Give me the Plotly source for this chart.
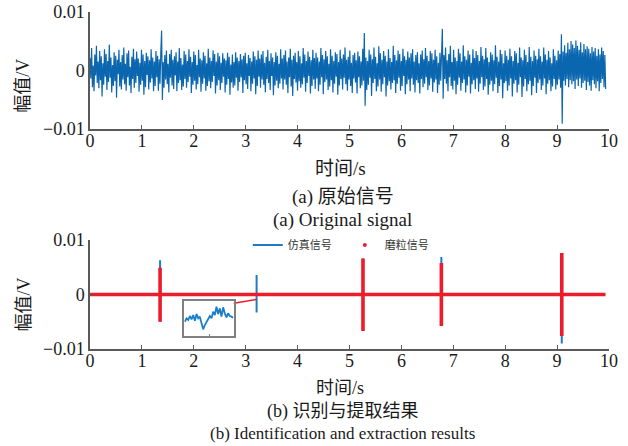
import plotly.graph_objects as go

# ---------------- data ----------------
# (a) original signal, amplitude in mV, sampled every 0.0155 s
sample_dt = 0.0155
orig_mv = [
    2.1, -1.4, 3.8, -2.9, 0.8, -3.6, 2.7, -0.9, 4.2, -2.2, 1.5, -3.1, 3.3, -1.7, 2.4, -4.5, 1.2, -2.5, 3.6, -1.1,
    2.8, -3.4, 1.6, -2.0, 4.4, -1.3, 2.2, -3.8, 0.9, -2.7, 3.1, -1.9, 2.5, -4.7, 1.8, -0.7, 3.5, -2.8, 1.4, -3.3,
    2.6, -1.6, 3.9, -2.4, 1.1, -3.5, 2.9, -1.2, 3.4, -2.6, 0.6, -3.9, 2.3, -1.5, 3.7, -3.0, 1.9, -2.2, 3.2, -1.0,
    2.0, -3.7, 1.3, -2.5, 3.5, -1.8, 2.7, -4.2, 1.6, -2.9, 3.0, -0.8, 2.4, -3.3, 1.7, -2.1, 3.6, -1.4, 2.2, -3.6,
    1.5, -2.7, 3.3, -1.2, 2.5, -3.5, 1.9, -2.3, 3.0, 6.8, -5.1, 1.4, -3.0, 2.6, -1.6, 3.4, -2.4, 1.1, -3.8, 2.8,
    -1.3, 3.5, -2.6, 1.8, -3.2, 2.4, -0.9, 3.1, -3.6, 1.5, -2.2, 3.8, -1.7, 2.1, -3.4, 1.0, -2.8, 3.3, -1.5, 2.7,
    -3.0, 1.6, -2.0, 3.6, -1.1, 2.3, -3.9, 1.4, -2.5, 3.2, -1.8, 2.6, -3.3, 0.9, -2.4, 3.5, -1.2, 2.0, -3.7, 1.7,
    -2.3, 3.1, -1.4, 2.5, -3.5, 1.2, -2.7, 3.7, -1.9, 2.2, -3.1, 1.6, -2.0, 3.4, -1.0, 2.8, -4.0, 1.5, -2.6, 3.0,
    -1.7, 2.4, -3.4, 1.3, -2.2, 2.9, -1.1, 2.0, -3.8, 1.7, -2.5, 3.0, -1.5, 2.3, -4.2, 1.0, -2.1, 2.7, -3.0, 1.4,
    -2.6, 3.1, -1.3, 2.2, -3.5, 1.6, -2.0, 2.8, -1.2, 1.9, -3.9, 2.5, -1.7, 3.0, -2.4, 1.2, -3.2, 2.6, -1.0, 2.1,
    -3.6, 1.5, -2.3, 3.2, -1.4, 2.4, -4.1, 1.8, -2.7, 3.4, -1.1, 2.0, -3.0, 2.7, -1.6, 3.3, -2.5, 1.3, -3.8, 2.3,
    -1.5, 3.5, -2.2, 1.6, -3.4, 2.9, -1.0, 2.2, -4.3, 1.4, -2.6, 3.1, -1.8, 2.5, -3.1, 1.1, -2.3, 3.6, -1.4, 2.0,
    -3.3, 2.6, -1.6, 3.4, -2.5, 1.5, -3.9, 2.2, -1.2, 3.7, -2.8, 1.8, -4.4, 2.5, -1.5, 3.0, -2.1, 1.4, -3.5, 3.3,
    -1.9, 2.4, -3.0, 1.2, -2.4, 3.8, -1.3, 2.7, -3.7, 1.6, -2.2, 3.2, -1.0, 2.3, -4.0, 1.7, -2.7, 3.5, -1.6, 2.1,
    -3.2, 3.0, -1.4, 2.2, -3.6, 1.5, -2.5, 3.8, -1.2, 2.6, -4.1, 1.9, -2.0, 3.3, -1.6, 2.4, -3.4, 1.1, -2.8, 3.6,
    -1.7, 2.5, -3.8, 1.6, -2.3, 3.1, -1.1, 2.8, -4.2, 1.4, -2.6, 3.5, -1.5, 2.0, -3.3, 2.7, -1.3, 3.9, -2.4, 1.8,
    -3.5, 2.3, -1.6, 3.4, -2.7, 1.3, -3.9, 2.6, -1.4, 3.0, -2.1, 1.7, -4.0, 3.2, -1.2, 2.4, -3.1, 1.5, -2.6, 3.7,
    -1.8, 6.4, -6.1, 2.2, -3.4, 1.6, -2.5, 3.5, -1.3, 2.7, -4.4, 1.9, -2.2, 3.9, -1.5, 2.3, -3.6, 1.2, -2.8, 4.1,
    -1.6, 2.9, -3.7, 1.8, -2.4, 3.3, -1.2, 2.5, -4.5, 1.5, -2.6, 3.6, -1.9, 2.1, -3.3, 1.4, -2.2, 4.2, -1.7, 2.6,
    -3.9, 1.7, -2.3, 3.4, -1.3, 2.8, -3.5, 1.6, -2.7, 3.7, -1.0, 2.4, -4.1, 1.8, -2.4, 3.2, -1.6, 2.2, -3.6, 2.9,
    -1.4, 3.6, -2.5, 1.5, -3.8, 2.6, -1.7, 3.1, -2.2, 1.2, -4.0, 2.7, -1.5, 3.4, -2.9, 1.9, -2.3, 3.8, -1.2, 2.5,
    -3.4, 1.6, -2.6, 3.3, -1.4, 2.9, -3.7, 1.8, -2.1, 3.5, -1.6, 2.4, -3.9, 1.3, -2.5, 3.0, -1.8, 2.2, 7.1, -4.9,
    2.6, -1.5, 3.9, -2.3, 1.7, -3.6, 2.8, -1.2, 4.2, -2.7, 1.4, -3.3, 3.5, -1.8, 2.2, -4.1, 1.6, -2.5, 3.7, -1.3,
    2.9, -3.5, 1.5, -2.2, 4.3, -1.6, 2.4, -3.8, 1.8, -2.6, 3.4, -1.1, 2.7, -4.0, 1.3, -2.4, 3.6, -1.7, 2.1, -3.2,
    3.3, -1.4, 2.6, -3.7, 1.6, -2.3, 4.0, -1.2, 2.5, -3.4, 1.9, -2.8, 3.8, -1.5, 2.2, -4.2, 1.4, -2.5, 3.1, -1.8,
    2.7, -3.6, 1.7, -2.4, 4.3, -1.3, 2.3, -3.9, 1.5, -2.7, 3.5, -1.6, 2.8, -4.8, 1.2, -2.2, 3.4, -1.9, 2.5, -3.5,
    1.8, -2.6, 3.7, -1.4, 2.4, -4.5, 1.6, -2.3, 3.3, -1.7, 2.9, -3.8, 1.3, -2.5, 3.9, -1.2, 2.2, -4.6, 1.7, -2.8,
    3.5, -1.5, 2.6, -3.6, 1.4, -2.4, 4.0, -1.8, 2.3, -4.3, 1.6, -2.7, 3.4, -1.3, 2.5, -3.9, 1.9, -2.2, 3.7, -1.6,
    2.4, -3.4, 1.5, -2.6, 3.9, -1.4, 2.7, -4.1, 1.8, -2.3, 3.3, -1.7, 2.2, -3.6, 1.2, -2.8, 3.6, -1.5, 2.5, -3.3,
    1.7, -2.5, 3.4, -1.6, 2.8, -3.0, 6.2, -9.2, 3.2, -1.8, 4.3, -2.6, 3.0, -1.5, 4.7, -2.9, 3.6, -1.7, 5.0, -2.4,
    4.4, -1.9, 3.8, -3.2, 5.1, -1.6, 4.2, -2.7, 3.5, -1.4, 4.8, -3.0, 3.1, -2.2, 4.5, -1.8, 3.6, -3.4, 4.1, -2.0,
    3.7, -2.6, 2.9, -3.5, 4.0, -1.7, 3.2, -2.4, 3.8, -3.1, 2.5, -1.9, 3.6, -3.6, 2.7, -2.2, 3.9, -1.5, 3.3, -2.9,
    2.6, -3.2,
]

# (b) simulated signal: isolated pulses (time s, max mV, min mV)
sim_times = [1.35, 3.21, 5.26, 6.77, 9.09]
sim_max_mv = [6.3, 3.6, 6.6, 6.9, 7.6]
sim_min_mv = [-5.0, -3.3, -6.7, -5.8, -9.0]
sim_end = 9.93

# (b) identified wear-particle signal
part_times = [1.35, 5.26, 6.77, 9.09]
part_max_mv = [4.9, 6.6, 5.8, 7.6]
part_min_mv = [-5.0, -6.7, -5.8, -7.6]
part_end = 9.93

# inset: magnified view of the pulse at 3.21 s (arbitrary units)
inset_vals = [0.5, 1.5, 1.0, 2.2, 1.2, 2.5, 0.8, 2.8, 1.5, 2.0, 0.0, -1.8, -0.5, 0.5, 1.5,
              2.2, 1.5, 3.5, 2.5, 5.0, 2.8, 4.5, 2.0, 4.8, 3.0, 1.8, 3.0, 2.2, 2.0, 1.7]

# connector from inset to the pulse (data coords of panel b)
conn_t = [2.66, 3.21]
conn_mv = [-1.8, -0.9]

y_ticks = [-0.01, 0, 0.01]
y_ticktext = ["\u22120.01", "0", "0.01"]
x_ticks = list(range(0, 11))

# ---------------- build ----------------
MV = 0.001
BLUE = "#0b66b0"
RED = "#ec1c2b"
AX = "#5a5a5a"
SERIF = "Liberation Serif, Noto Sans CJK SC"
CJK = "Noto Sans CJK SC, Liberation Serif"


def pulses(times, highs, lows, end):
    xs, ys = [0.0], [0.0]
    for t, hi, lo in zip(times, highs, lows):
        xs += [t, t, t, t]
        ys += [0.0, hi * MV, lo * MV, 0.0]
    xs.append(end)
    ys.append(0.0)
    return xs, ys


fig = go.Figure()

fig.add_trace(go.Scatter(
    y=[v * MV for v in orig_mv], x0=0, dx=sample_dt, mode="lines",
    line=dict(color=BLUE, width=1.2), xaxis="x", yaxis="y", showlegend=False))

sx, sy = pulses(sim_times, sim_max_mv, sim_min_mv, sim_end)
fig.add_trace(go.Scatter(
    x=sx, y=sy, mode="lines", name="仿真信号", legend="legend",
    line=dict(color="#1f7bc4", width=2), xaxis="x2", yaxis="y2"))

px_, py_ = pulses(part_times, part_max_mv, part_min_mv, part_end)
fig.add_trace(go.Scatter(
    x=px_, y=py_, mode="lines", line=dict(color=RED, width=3.6),
    xaxis="x2", yaxis="y2", showlegend=False))

fig.add_trace(go.Scatter(
    x=[None], y=[None], mode="markers", name="磨粒信号", legend="legend2",
    marker=dict(color=RED, size=4), xaxis="x2", yaxis="y2"))

fig.add_trace(go.Scatter(
    x=conn_t, y=[v * MV for v in conn_mv], mode="lines+markers",
    line=dict(color=RED, width=1.5), marker=dict(color=RED, size=[6, 0]),
    xaxis="x2", yaxis="y2", showlegend=False))

fig.add_trace(go.Scatter(
    y=inset_vals, mode="lines", line=dict(color="#1a7fc8", width=1.8),
    xaxis="x3", yaxis="y3", showlegend=False))

xcommon = dict(range=[0, 10], tickvals=x_ticks, showline=True, linecolor=AX, linewidth=1.5,
               ticks="inside", ticklen=4, tickcolor=AX, tickwidth=1.2, ticklabelstandoff=-5,
               tickfont=dict(family=SERIF, size=18, color="#1a1a1a"),
               showgrid=False, zeroline=False, automargin=False)
ycommon = dict(range=[-0.01, 0.01], tickvals=y_ticks, ticktext=y_ticktext, showline=True,
               linecolor=AX, linewidth=1.5, ticks="inside", ticklen=4, tickcolor=AX, tickwidth=1.2,
               tickfont=dict(family=SERIF, size=18, color="#1a1a1a"),
               showgrid=False, zeroline=False, automargin=False)

legend_common = dict(orientation="h", y=0.3086, xanchor="left", yanchor="middle",
                     font=dict(family=CJK, size=11, color="#333333"),
                     bgcolor="rgba(0,0,0,0)", itemwidth=30)

fig.update_layout(
    template="none",
    width=628, height=446,
    margin=dict(l=90, r=18.5, t=12, b=97, autoexpand=False),
    paper_bgcolor="white", plot_bgcolor="white",
    xaxis=dict(domain=[0, 1], anchor="y", **xcommon),
    yaxis=dict(domain=[0.6543, 1.0], anchor="x", **ycommon),
    xaxis2=dict(domain=[0, 1], anchor="y2", **xcommon),
    yaxis2=dict(domain=[0, 0.3234], anchor="x2", **ycommon),
    xaxis3=dict(domain=[0.181, 0.277], anchor="y3", range=[-0.6, 29.4], showline=True, mirror=True,
                linecolor="#808080", linewidth=1.5, ticks="inside", tickvals=[15], ticklen=2,
                tickcolor="#808080", showticklabels=False, showgrid=False, zeroline=False),
    yaxis3=dict(domain=[0.0395, 0.1424], anchor="x3", range=[-3.7, 6.7], showline=True, mirror=True,
                linecolor="#808080", linewidth=1.5, ticks="", showticklabels=False,
                showgrid=False, zeroline=False),
    legend=dict(x=0.304, **legend_common),
    legend2=dict(x=0.491, **legend_common),
)

ann = [
    ("幅值/V", -0.128, 0.780, 18, -90, "middle"),
    ("幅值/V", -0.128, 0.1306, 18, -90, "middle"),
    ("时间/s", 0.483, 0.537, 19, 0, "middle"),
    ("(a) 原始信号", 0.487, 0.452, 19, 0, "middle"),
    ("(a) Original signal", 0.487, 0.384, 19, 0, "middle"),
    ("时间/s", 0.481, -0.1157, 18, 0, "middle"),
    ("(b) 识别与提取结果", 0.487, -0.184, 18, 0, "middle"),
    ("(b) Identification and extraction results", 0.487, -0.2849, 17, 0, "bottom"),
]
for text, x, y, size, ang, ya in ann:
    fig.add_annotation(text=text, x=x, y=y, xref="paper", yref="paper", showarrow=False,
                       xanchor="center", yanchor=ya, textangle=ang,
                       font=dict(family=SERIF, size=size, color="#1a1a1a"))

fig.write_html("out.html")
